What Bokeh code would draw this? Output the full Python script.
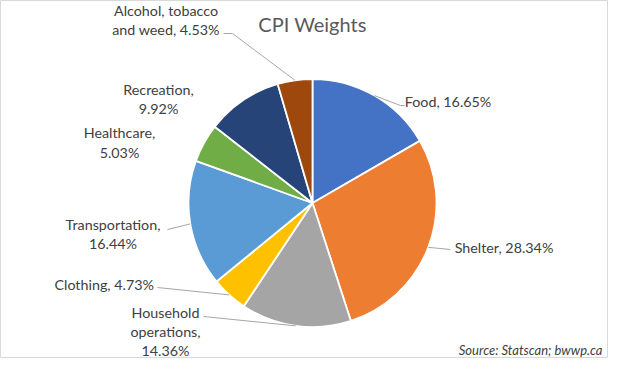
import math
from bokeh.plotting import figure
from bokeh.models import Range1d, ColumnDataSource
from bokeh.core.properties import value
from bokeh.embed import file_html
from bokeh.resources import INLINE

# ---- data ----
categories = ["Food", "Shelter", "Household operations", "Clothing",
              "Transportation", "Healthcare", "Recreation",
              "Alcohol, tobacco and weed"]
weights = [16.65, 28.34, 14.36, 4.73, 16.44, 5.03, 9.92, 4.53]
colors = ["#4472C4", "#ED7D31", "#A5A5A5", "#FFC000",
          "#5B9BD5", "#70AD47", "#264478", "#9E480E"]
title_text = "CPI Weights"
source_text = "Source: Statscan; bwwp.ca"

# ---- layout (reference pixel coordinates, y downward) ----
H = 374
DY = 6
CX, CY, R = 312, 208.5, 124
breaks = {
    "Food": "{c}, {v}",
    "Shelter": "{c}, {v}",
    "Household operations": "Household\noperations,\n{v}",
    "Clothing": "{c}, {v}",
    "Transportation": "{c},\n{v}",
    "Healthcare": "{c},\n{v}",
    "Recreation": "{c},\n{v}",
    "Alcohol, tobacco and weed": "Alcohol, tobacco\nand weed, {v}",
}
label_pos = [(447.5, 107), (503.5, 252.5), (165, 337), (103.7, 290),
             (112.5, 239.7), (119, 148), (158, 104.5), (165.5, 25.8)]
leader_pts = [[(400, 111), (404, 111)], [(450, 255)], [(203, 322)],
              [(157, 293)], [(167, 235)], None, None,
              [(232, 39), (223, 39)]]

p = figure(width=608, height=358, output_backend="svg", toolbar_location=None,
           x_range=Range1d(0, 608), y_range=Range1d(H - DY - 358, H - DY),
           min_border=0, background_fill_color="white")
p.axis.visible = False
p.xgrid.visible = False
p.ygrid.visible = False
p.outline_line_color = "#D9D9D9"
p.outline_line_width = 1

total = sum(weights)
starts, ends, mids = [], [], []
cum = 0.0
for w in weights:
    a0 = cum / total
    cum += w
    a1 = cum / total
    starts.append(math.pi / 2 - a0 * 2 * math.pi)
    ends.append(math.pi / 2 - a1 * 2 * math.pi)
    mids.append(math.pi / 2 - (a0 + a1) / 2 * 2 * math.pi)

src = ColumnDataSource(dict(start=starts, end=ends, color=colors))
p.wedge(x=CX, y=H - CY, radius=R, start_angle="start", end_angle="end",
        direction="clock", fill_color="color", line_color="white",
        line_width=1.8, source=src)

# leader lines
xs, ys = [], []
for m, pts in zip(mids, leader_pts):
    if not pts:
        continue
    ex = CX + R * math.cos(m)
    ey = (H - CY) + R * math.sin(m)
    xs.append([ex] + [q[0] for q in pts])
    ys.append([ey] + [H - q[1] for q in pts])
p.multi_line(xs, ys, line_color="#A6A6A6", line_width=1)

# labels
texts = [breaks[c].format(c=c, v=f"{w:.2f}%") for c, w in zip(categories, weights)]
p.text(x=[q[0] for q in label_pos], y=[H - q[1] for q in label_pos], text=texts,
       text_font=value("Lato"), text_font_size="14.3px", text_color="#404040",
       text_align="center", text_baseline="middle", text_line_height=1.12)

# title
p.text(x=[312], y=[H - 29], text=[title_text], text_font=value("Lato"),
       text_font_size="20px", text_color="#595959",
       text_align="center", text_baseline="middle")

# source
p.text(x=[602], y=[H - 355], text=[source_text], text_font=value("Lato"),
       text_font_size="13px", text_font_style="italic", text_color="#404040",
       text_align="right", text_baseline="middle")

open("out.html", "w").write(file_html(p, INLINE))
